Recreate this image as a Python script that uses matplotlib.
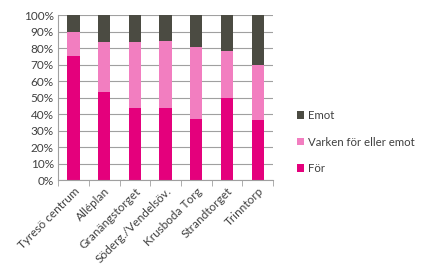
import numpy as np
import matplotlib.pyplot as plt

plt.rcParams['font.family'] = ['Lato', 'DejaVu Sans']

# Data (percent)
places = ['Tyresö centrum', 'Alléplan', 'Granängstorget', 'Söderg./Vendelsöv.',
          'Krusboda Torg', 'Strandtorget', 'Trinntorp']
for_vals = [75.5, 53.5, 43.5, 43.5, 37, 49.5, 36.5]
neither_vals = [14.5, 30.5, 40.5, 41, 43.5, 28.5, 33.5]
against_vals = [10, 16, 16, 15.5, 19.5, 22, 30]

c_for = '#E4007C'
c_neither = '#F27EC0'
c_against = '#4B4B42'

fig = plt.figure(figsize=(4.24, 2.70), dpi=100)
ax = fig.add_axes([0.137, 0.333, 0.507, 0.611])

x = np.arange(len(places))
w = 0.4
f = np.array(for_vals)
n = np.array(neither_vals)
a = np.array(against_vals)
ax.bar(x, f, w, color=c_for, label='För', zorder=2)
ax.bar(x, n, w, bottom=f, color=c_neither, label='Varken för eller emot', zorder=2)
ax.bar(x, a, w, bottom=f + n, color=c_against, label='Emot', zorder=2)

ax.set_ylim(0, 100)
ax.set_xlim(-0.5, len(places) - 0.5)
ax.set_yticks(np.arange(0, 101, 10))
ax.set_yticklabels([f'{v}%' for v in range(0, 101, 10)], fontsize=8.5, color='#404040')
ax.yaxis.grid(True, color='#A0A0A0', linewidth=0.8, zorder=0)
ax.tick_params(axis='y', length=0, pad=3)

ax.set_xticks(x)
ax.set_xticklabels(places, rotation=45, ha='right', rotation_mode='anchor',
                   fontsize=8.5, color='#404040')
ax.set_xticks(np.arange(-0.5, len(places), 1), minor=True)
ax.tick_params(axis='x', which='major', length=0, pad=4)
ax.tick_params(axis='x', which='minor', length=4, color='#A0A0A0')

for s in ['top', 'right']:
    ax.spines[s].set_visible(False)
ax.spines['left'].set_color('#A0A0A0')
ax.spines['bottom'].set_color('#A0A0A0')

handles, labels = ax.get_legend_handles_labels()
fig.legend(handles[::-1], labels[::-1], loc='center left', bbox_to_anchor=(0.700, 0.474),
           frameon=False, fontsize=8.2, handlelength=0.65, handleheight=0.65,
           handletextpad=0.35, labelspacing=1.35, labelcolor='#404040',
           borderpad=0, borderaxespad=0)

fig.savefig('out.png', dpi=100)
